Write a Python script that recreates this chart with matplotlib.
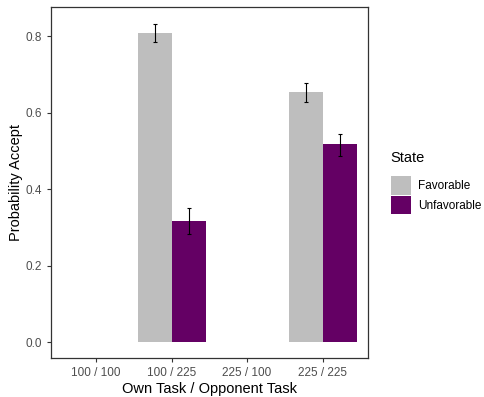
import numpy as np
import matplotlib
matplotlib.use('Agg')
import matplotlib.pyplot as plt
from matplotlib.patches import Patch

categories = ['100 / 100', '100 / 225', '225 / 100', '225 / 225']
states = ['Favorable', 'Unfavorable']
colors = ['#bebebe', '#640064']

# only the two conditions with an opponent task of 225 have data
fav = [np.nan, 0.809, np.nan, 0.653]
fav_lo = [np.nan, 0.784, np.nan, 0.628]
fav_hi = [np.nan, 0.831, np.nan, 0.677]
unf = [np.nan, 0.316, np.nan, 0.518]
unf_lo = [np.nan, 0.282, np.nan, 0.487]
unf_hi = [np.nan, 0.350, np.nan, 0.544]

plt.rcParams['font.family'] = ['Liberation Sans', 'DejaVu Sans']

fig = plt.figure(figsize=(4.84, 3.97), dpi=100)
ax = fig.add_axes([0.105, 0.098, 0.655, 0.884])

x = np.arange(1, len(categories) + 1)
w = 0.45
for vals, lo, hi, off, c in [(fav, fav_lo, fav_hi, -w / 2, colors[0]),
                             (unf, unf_lo, unf_hi, w / 2, colors[1])]:
    vals = np.array(vals)
    ok = ~np.isnan(vals)
    ax.bar(x[ok] + off, vals[ok], width=w, color=c, zorder=2)
    lo = np.array(lo)[ok]
    hi = np.array(hi)[ok]
    mid = (lo + hi) / 2
    ax.errorbar(x[ok] + off, mid, yerr=(hi - lo) / 2, fmt='none',
                ecolor='black', elinewidth=0.8, capsize=1.2, capthick=0.8,
                zorder=3)

ax.set_xlim(0.4, 4.6)
ax.set_ylim(-0.042, 0.876)
ax.set_xticks(x)
ax.set_xticklabels(categories)
ax.set_yticks([0.0, 0.2, 0.4, 0.6, 0.8])
ax.set_yticklabels(['0.0', '0.2', '0.4', '0.6', '0.8'])
ax.tick_params(colors='#333333', labelcolor='#4d4d4d', labelsize=8.5,
               length=3, width=0.8)
for s in ax.spines.values():
    s.set_color('#333333')
    s.set_linewidth(0.9)
ax.set_xlabel('Own Task / Opponent Task', fontsize=10.5, labelpad=2)
ax.set_ylabel('Probability Accept', fontsize=10.5, labelpad=1.5)

handles = [Patch(facecolor=c, label=s) for s, c in zip(states, colors)]
leg = fig.legend(handles=handles, title='State', loc='center left',
                 bbox_to_anchor=(0.785, 0.54), frameon=False, fontsize=8.5,
                 title_fontsize=10.5, handlelength=1.7, handleheight=2.0,
                 handletextpad=0.6, labelspacing=0.1)
leg._legend_box.align = 'left'
leg._legend_box.sep = 8

fig.savefig('out.png', dpi=100)
